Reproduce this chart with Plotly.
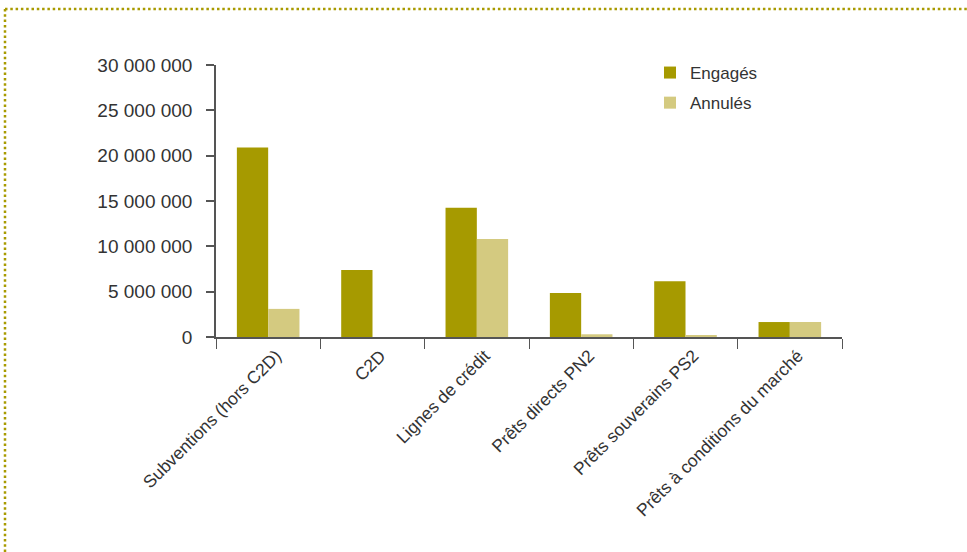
import plotly.graph_objects as go

# Montants par instrument (en euros)
categories = [
    "Subventions (hors C2D)",
    "C2D",
    "Lignes de crédit",
    "Prêts directs PN2",
    "Prêts souverains PS2",
    "Prêts à conditions du marché",
]
engages = [20_900_000, 7_400_000, 14_250_000, 4_850_000, 6_150_000, 1_650_000]
annules = [3_100_000, 0, 10_800_000, 300_000, 200_000, 1_650_000]
y_ticks = [0, 5_000_000, 10_000_000, 15_000_000, 20_000_000, 25_000_000, 30_000_000]

W, H = 967, 552
ML, MR, MT, MB = 216, 125, 65, 215
PW, PH = W - ML - MR, H - MT - MB

COL_ENG = "#a69a00"
COL_ANN = "#d4ca80"
FONT = "Liberation Sans"
TXT = "#333333"
AXIS = "#555555"

fig = go.Figure()
fig.add_trace(go.Bar(name="Engagés", x=categories, y=engages,
                     marker=dict(color=COL_ENG, line=dict(width=0)),
                     legendgroup="a"))
fig.add_trace(go.Bar(name="Annulés", x=categories, y=annules,
                     marker=dict(color=COL_ANN, line=dict(width=0)),
                     legendgroup="b"))


def px_x(p):
    return (p - ML) / PW


def px_y(p):
    return (H - MB - p) / PH


# dotted frame along the top and left edges
border = dict(color="#a89a00", width=2.5, dash="2.5px,2.8px")
fig.add_shape(type="line", xref="paper", yref="paper",
              x0=px_x(5), x1=px_x(W + 5), y0=px_y(9), y1=px_y(9), line=border)
fig.add_shape(type="line", xref="paper", yref="paper",
              x0=px_x(5), x1=px_x(5), y0=px_y(9), y1=px_y(H + 5), line=border)

fig.update_layout(
    width=W, height=H,
    margin=dict(l=ML, r=MR, t=MT, b=MB),
    paper_bgcolor="white", plot_bgcolor="white",
    barmode="group", bargap=0.4, bargroupgap=0,
    separators=", ",
    font=dict(family=FONT, size=17, color=TXT),
    showlegend=True,
    legend=dict(x=px_x(650), y=px_y(55), xanchor="left", yanchor="top",
                bgcolor="rgba(0,0,0,0)", font=dict(size=17, color=TXT),
                traceorder="grouped", tracegroupgap=5),
    xaxis=dict(type="category", tickson="boundaries", ticks="outside",
               ticklen=10, tickcolor=AXIS, tickwidth=1,
               showline=True, linecolor=AXIS, linewidth=1.5,
               tickangle=-45, showgrid=False, zeroline=False,
               ticklabelshift=8,
               tickfont=dict(size=17.5, color=TXT)),
    yaxis=dict(range=[0, 30_000_000], tickvals=y_ticks, tickformat=",d",
               ticks="outside", ticklen=8, tickcolor=AXIS, tickwidth=1.5,
               showline=True, linecolor=AXIS, linewidth=1.5,
               showgrid=False, zeroline=False, ticklabelstandoff=10,
               tickfont=dict(size=19, color=TXT)),
)

fig.write_html("out.html")
